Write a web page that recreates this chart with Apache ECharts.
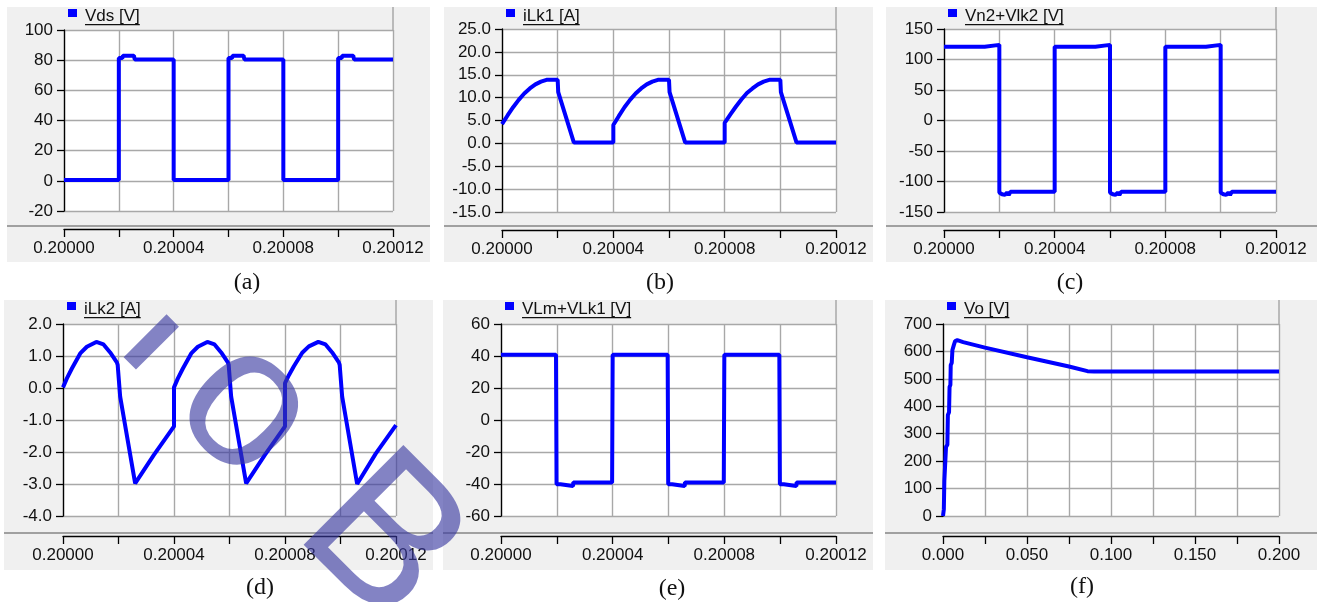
<!DOCTYPE html>
<html><head><meta charset="utf-8">
<script src="https://cdn.jsdelivr.net/npm/echarts@6/dist/echarts.min.js"></script>
<style>html,body{margin:0;padding:0;background:#fff;}#c{width:1317px;height:602px;}</style>
</head><body><div id="c"></div>
<script>
// ---------------- data ----------------
const titles = ['Vds [V]', 'iLk1 [A]', 'Vn2+Vlk2 [V]', 'iLk2 [A]', 'VLm+VLk1 [V]', 'Vo [V]'];
const captions = ['(a)', '(b)', '(c)', '(d)', '(e)', '(f)'];
const yMin = [-20, -15, -150, -4, -60, 0];
const yMax = [100, 25, 150, 2, 60, 700];
const yStep = [20, 5, 50, 1, 20, 100];
const yDecimals = [0, 1, 0, 1, 0, 0];
const tMin = [0.2, 0.2, 0.2, 0.2, 0.2, 0];
const tMax = [0.20012, 0.20012, 0.20012, 0.20012, 0.20012, 0.2];
const tStep = [0.00002, 0.00002, 0.00002, 0.00002, 0.00002, 0.025];
const tDecimals = [5, 5, 5, 5, 5, 3];

const vds = [
  [0.2,0.6],[0.20002,0.6],[0.20002,81.4],[0.2000213,81.4],[0.2000215,82.9],[0.2000255,82.9],[0.2000258,80.5],[0.20004,80.5],[0.20004,0.6],
  [0.20006,0.6],[0.20006,81.4],[0.2000613,81.4],[0.2000615,82.9],[0.2000655,82.9],[0.2000658,80.5],[0.20008,80.5],[0.20008,0.6],
  [0.2001,0.6],[0.2001,81.4],[0.2001013,81.4],[0.2001015,82.9],[0.2001055,82.9],[0.2001058,80.5],[0.20012,80.5]
];
const iLk1 = [
  [0.2,4.2],[0.200002,6.1],[0.200004,7.9],[0.200006,9.5],[0.200008,10.9],[0.20001,12.0],[0.200012,12.9],[0.200014,13.5],[0.200016,13.9],[0.20002,13.9],[0.2000202,11.2],[0.2000258,0.2],[0.20004,0.2],
  [0.20004,4.0],[0.200042,6.0],[0.200044,7.9],[0.200046,9.5],[0.200048,10.9],[0.20005,12.0],[0.200052,12.9],[0.200054,13.5],[0.200056,13.9],[0.20006,13.9],[0.2000602,11.2],[0.2000658,0.2],[0.20008,0.2],
  [0.20008,4.5],[0.200082,6.3],[0.200084,8.0],[0.200086,9.6],[0.200088,11.0],[0.20009,12.0],[0.200092,12.9],[0.200094,13.5],[0.200096,13.9],[0.2001,13.9],[0.2001002,11.2],[0.2001058,0.2],[0.20012,0.2]
];
const vn2Vlk2 = [
  [0.2,121],[0.2000147,121],[0.2000148,124],[0.20002,124],[0.20002,-118],[0.200021,-121],[0.2000215,-118],[0.200022,-122],[0.2000228,-118],[0.2000234,-122],[0.200024,-117],[0.20004,-117],
  [0.20004,121],[0.2000547,121],[0.2000548,124],[0.20006,124],[0.20006,-118],[0.200061,-121],[0.2000615,-118],[0.200062,-122],[0.2000628,-118],[0.2000634,-122],[0.200064,-117],[0.20008,-117],
  [0.20008,121],[0.2000947,121],[0.2000948,124],[0.2001,124],[0.2001,-118],[0.200101,-121],[0.2001015,-118],[0.200102,-122],[0.2001028,-118],[0.2001034,-122],[0.200104,-117],[0.20012,-117]
];
const iLk2 = [
  [0.2,0.02],[0.2000014,0.3],[0.2000032,0.61],[0.2000062,1.08],[0.2000086,1.29],[0.200012,1.44],[0.2000146,1.36],[0.200017,1.11],[0.2000194,0.8],[0.2000197,0.72],[0.2000206,-0.27],[0.200026,-2.98],[0.2000327,-2.1],[0.20004,-1.2],
  [0.20004,0.02],[0.2000414,0.3],[0.2000432,0.61],[0.2000462,1.08],[0.2000486,1.29],[0.200052,1.44],[0.2000546,1.36],[0.200057,1.11],[0.2000594,0.8],[0.2000597,0.72],[0.2000606,-0.27],[0.200066,-2.98],[0.2000727,-2.1],[0.20008,-1.2],
  [0.20008,0.15],[0.2000814,0.4],[0.2000832,0.68],[0.2000862,1.1],[0.2000886,1.3],[0.200092,1.44],[0.2000946,1.36],[0.200097,1.11],[0.2000994,0.8],[0.2000997,0.72],[0.2001006,-0.27],[0.200106,-3.0],[0.2001127,-2.05],[0.20012,-1.16]
];
const vlmVlk1 = [
  [0.2,40.8],[0.2000197,40.8],[0.2000199,-40.2],[0.2000213,-40.2],[0.2000214,-41.3],[0.2000258,-41.3],[0.2000259,-39],[0.2000398,-39],[0.20004,40.8],
  [0.2000597,40.8],[0.2000599,-40.2],[0.2000613,-40.2],[0.2000614,-41.3],[0.2000658,-41.3],[0.2000659,-39],[0.2000798,-39],[0.20008,40.8],
  [0.2000997,40.8],[0.2000999,-40.2],[0.2001013,-40.2],[0.2001014,-41.3],[0.2001058,-41.3],[0.2001059,-39],[0.20012,-39]
];
const vo = [
  [0,0],[0.0004,3],[0.0005,25],[0.0008,128],[0.0015,135],[0.0018,252],[0.0026,260],[0.0029,368],[0.0036,378],[0.0039,470],[0.0044,478],[0.0046,550],[0.0052,558],[0.0056,605],[0.0064,622],[0.0072,638],[0.0085,641],[0.012,634],[0.025,614],[0.05,579],[0.075,545],[0.086,528],[0.09,527],[0.2,527]
];
const seriesData = [vds, iLk1, vn2Vlk2, iLk2, vlmVlk1, vo];

// ---------------- layout ----------------
const layout = [
  {bg:[7,7,423,255],    plot:[64,30,329,181],  xOff:18, sepY:225, cap:[247,283]},
  {bg:[444,7,429,255],  plot:[502,29,334,183], xOff:18, sepY:225, cap:[660,283]},
  {bg:[886,7,431,255],  plot:[944,29,332,183], xOff:18, sepY:225, cap:[1070,283]},
  {bg:[4,300,429,270],  plot:[63,324,333,192], xOff:20, sepY:532, cap:[260,588]},
  {bg:[443,300,430,270],plot:[501,324,335,192],xOff:20, sepY:532, cap:[672,589]},
  {bg:[885,300,432,270],plot:[943,324,336,192],xOff:20, sepY:532, cap:[1082,587]}
];
const FONT = 'Liberation Sans';
const BLUE = '#0000ff';
const GRIDC = '#a8a8a8';
const WM = 'rgba(55,55,160,0.62)';

const measure = (() => { const c = document.createElement('canvas').getContext('2d'); return (t, f) => { c.font = f; return c.measureText(t).width; }; })();

const grids = [], xAxes = [], yAxes = [], series = [], graphics = [];
layout.forEach((p, i) => {
  const [px, py, pw, ph] = p.plot;
  grids.push({left: px, top: py, width: pw, height: ph, containLabel: false, outerBoundsMode: 'none', show: false});
  xAxes.push({
    type: 'value', gridIndex: i, min: tMin[i], max: tMax[i], interval: tStep[i], position: 'bottom', offset: p.xOff,
    axisLine: {onZero: false, lineStyle: {color: '#000', width: 1.3}},
    axisTick: {show: true, length: 8, lineStyle: {color: '#000', width: 1.3}},
    axisLabel: {show: true, showMinLabel: true, showMaxLabel: true, margin: 11, fontSize: 17, fontFamily: FONT, color: '#111',
      formatter: v => { const k = Math.round((v - tMin[i]) / tStep[i]); return k % 2 === 0 ? v.toFixed(tDecimals[i]) : ''; }},
    splitLine: {show: true, lineStyle: {color: GRIDC, width: 1.4}}
  });
  yAxes.push({
    type: 'value', gridIndex: i, min: yMin[i], max: yMax[i], interval: yStep[i], position: 'left',
    axisLine: {show: true, onZero: false, lineStyle: {color: '#000', width: 1.3}},
    axisTick: {show: true, length: 7, lineStyle: {color: '#000', width: 1.3}},
    axisLabel: {show: true, showMinLabel: true, showMaxLabel: true, margin: 11, fontSize: 17, fontFamily: FONT, color: '#111',
      formatter: v => v.toFixed(yDecimals[i])},
    splitLine: {show: true, lineStyle: {color: GRIDC, width: 1.4}}
  });
  series.push({
    type: 'line', name: titles[i], xAxisIndex: i, yAxisIndex: i, data: seriesData[i], showSymbol: false, symbol: 'none',
    lineStyle: {color: BLUE, width: 4}, itemStyle: {color: BLUE}, animation: false, z: 5
  });
  const [bx, by, bw, bh] = p.bg;
  graphics.push({type: 'rect', z: -10, silent: true, shape: {x: bx, y: by, width: bw, height: bh}, style: {fill: '#f0f0f0'}});
  graphics.push({type: 'rect', z: -9, silent: true, shape: {x: px, y: py, width: pw, height: ph}, style: {fill: '#ffffff'}});
  graphics.push({type: 'rect', z: -8, silent: true, shape: {x: bx, y: p.sepY, width: bw, height: 2}, style: {fill: '#a0a0a0'}});
  graphics.push({type: 'line', z: -8, silent: true, shape: {x1: px + pw, y1: by, x2: px + pw, y2: py}, style: {stroke: GRIDC, lineWidth: 1.5}});
  // legend
  graphics.push({type: 'rect', z: 20, silent: true, shape: {x: px + 4, y: by + 2, width: 9, height: 8}, style: {fill: BLUE}});
  const tf = '17px "' + FONT + '"';
  const tw = measure(titles[i], tf);
  graphics.push({type: 'text', z: 20, silent: true, x: px + 21, y: by + 9,
    style: {text: titles[i], fontSize: 17, fontFamily: FONT, fill: '#111', align: 'left', verticalAlign: 'middle', textAlign: 'left', textVerticalAlign: 'middle'}});
  graphics.push({type: 'rect', z: 20, silent: true, shape: {x: px + 21, y: by + 17, width: tw, height: 1.2}, style: {fill: '#111'}});
  // caption
  graphics.push({type: 'text', z: 20, silent: true, x: p.cap[0], y: p.cap[1],
    style: {text: captions[i], fontSize: 24, fontFamily: 'Liberation Serif', fill: '#111', align: 'center', verticalAlign: 'middle', textAlign: 'center', textVerticalAlign: 'middle'}});
});

// watermark (rotated letters)
const R = -Math.PI / 4;
graphics.push({type: 'text', z: 100, silent: true, x: 147, y: 346, rotation: R,
  style: {text: 'l', fontSize: 68, fontFamily: FONT, fill: 'none', stroke: WM, lineWidth: 11.5, align: 'center', verticalAlign: 'middle', textAlign: 'center', textVerticalAlign: 'middle'}});
graphics.push({type: 'text', z: 100, silent: true, x: 245, y: 409, rotation: R,
  style: {text: 'o', fontSize: 200, fontFamily: FONT, fill: WM, align: 'center', verticalAlign: 'middle', textAlign: 'center', textVerticalAlign: 'middle'}});
graphics.push({type: 'text', z: 100, silent: true, x: 380, y: 541, rotation: R,
  style: {text: 'B', fontSize: 205, fontFamily: FONT, fill: WM, align: 'center', verticalAlign: 'middle', textAlign: 'center', textVerticalAlign: 'middle'}});

const chart = echarts.init(document.getElementById('c'), null, {renderer: 'canvas'});
chart.setOption({
  animation: false,
  backgroundColor: '#ffffff',
  grid: grids, xAxis: xAxes, yAxis: yAxes, series: series,
  graphic: {elements: graphics}
});
</script></body></html>
